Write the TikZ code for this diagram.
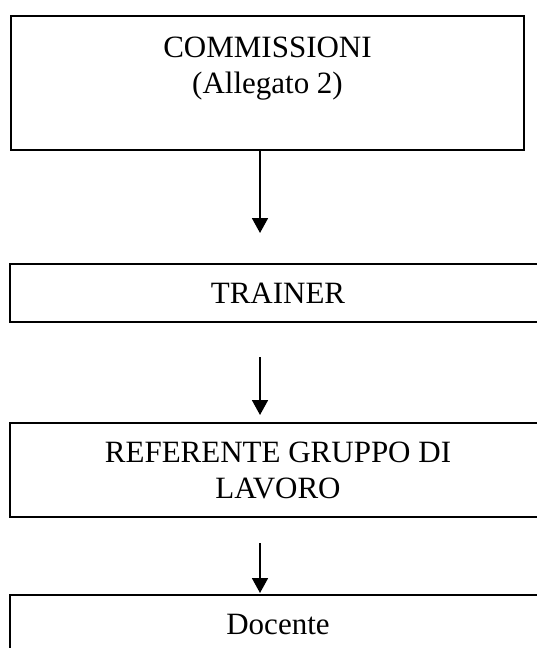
\documentclass[tikz,border=0pt]{standalone}
\usepackage{fontspec}
\setmainfont{Liberation Serif}
\usetikzlibrary{arrows.meta}
\tikzset{x=1pt, y=-1pt, % one unit is one pixel of the page, y runs down
box/.style={draw, line width=1.3pt, align=center, font=\fontsize{31}{36}\selectfont}, % sets the look of every box
wide/.style={box, minimum width=536pt}, % the lower boxes run off the right side
flow/.style={-{Triangle[width=16pt,length=15pt]}, line width=1.8pt}, % the arrows between the levels
}

\begin{document}
\begin{tikzpicture}
\useasboundingbox (0,0) rectangle (537,648);
\node[box, minimum width=513pt, minimum height=134pt] (comm) at (267.5,83) {COMMISSIONI\\(Allegato 2)\\\mbox{}};
\node[wide, minimum height=58pt] (trainer) at (278,293) {TRAINER};
\node[wide, minimum height=94pt] (ref) at (278,470) {REFERENTE GRUPPO DI\\LAVORO};
\node[wide, minimum height=58pt] (doc) at (278,624) {Docente};

\coordinate (t1) at (260,233);
\coordinate (f2) at (260,357);
\coordinate (t2) at (260,415);
\coordinate (f3) at (260,543);
\coordinate (t3) at (260,593);
\draw[flow] (comm.south -| t1) -- (t1);
\draw[flow] (f2) -- (t2);
\draw[flow] (f3) -- (t3);

\end{tikzpicture}
\end{document}
